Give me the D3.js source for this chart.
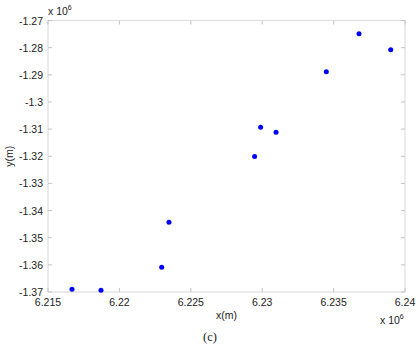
<!DOCTYPE html>
<html>
<head>
<meta charset="utf-8">
<script src="https://cdn.jsdelivr.net/npm/d3@7"></script>
<style>
  body { margin: 0; background: #fff; }
  svg { display: block; }
  text { font-family: "Liberation Sans", Arial, sans-serif; fill: #222; }
</style>
</head>
<body>
<div id="chart"></div>
<script>
// data in units of 10^6 m
const xVals = [6.21668, 6.21871, 6.22296, 6.22347, 6.22947, 6.22989, 6.23097, 6.23449, 6.23678, 6.23900];
const yVals = [-1.36900, -1.36937, -1.36090, -1.34431, -1.32013, -1.30929, -1.31113, -1.28891, -1.27490, -1.28080];
const xTicks = [6.215, 6.22, 6.225, 6.23, 6.235, 6.24];
const xTickLabels = ["6.215", "6.22", "6.225", "6.23", "6.235", "6.24"];
const yTicks = [-1.27, -1.28, -1.29, -1.3, -1.31, -1.32, -1.33, -1.34, -1.35, -1.36, -1.37];
const yTickLabels = ["-1.27", "-1.28", "-1.29", "-1.3", "-1.31", "-1.32", "-1.33", "-1.34", "-1.35", "-1.36", "-1.37"];

const W = 418, H = 344;
const margin = {top: 20.5, right: 13, bottom: 52, left: 48};
const width = W - margin.left - margin.right,
      height = H - margin.top - margin.bottom;

const svg = d3.select("#chart").append("svg")
    .attr("width", W).attr("height", H);
const g = svg.append("g")
    .attr("transform", `translate(${margin.left},${margin.top})`);

const x = d3.scaleLinear().domain([6.215, 6.24]).range([0, width]);
const y = d3.scaleLinear().domain([-1.37, -1.27]).range([height, 0]);

// box
g.append("rect")
    .attr("x", 0).attr("y", 0)
    .attr("width", width).attr("height", height)
    .attr("fill", "none").attr("stroke", "#dedede").attr("stroke-width", 1.2);

// ticks (inward, all four sides)
const tk = 4, tickColor = "#c4c4c4";
xTicks.forEach(function(t) {
    g.append("line").attr("x1", x(t)).attr("x2", x(t)).attr("y1", height).attr("y2", height - tk).attr("stroke", tickColor);
    g.append("line").attr("x1", x(t)).attr("x2", x(t)).attr("y1", 0).attr("y2", tk).attr("stroke", tickColor);
});
yTicks.forEach(function(t) {
    g.append("line").attr("y1", y(t)).attr("y2", y(t)).attr("x1", 0).attr("x2", tk).attr("stroke", tickColor);
    g.append("line").attr("y1", y(t)).attr("y2", y(t)).attr("x1", width).attr("x2", width - tk).attr("stroke", tickColor);
});

// tick labels
g.selectAll(".xl").data(xTicks).enter().append("text")
    .attr("x", d => x(d)).attr("y", height + 14)
    .attr("text-anchor", "middle").style("font-size", "10.5px")
    .text((d, i) => xTickLabels[i]);

g.selectAll(".yl").data(yTicks).enter().append("text")
    .attr("x", -5).attr("y", d => y(d) + 4)
    .attr("text-anchor", "end").style("font-size", "10.5px")
    .text((d, i) => yTickLabels[i]);

// exponent labels
const e1 = svg.append("text").attr("x", 48).attr("y", 15).style("font-size", "10.5px");
e1.append("tspan").text("x 10");
e1.append("tspan").attr("dy", -5).style("font-size", "7px").text("6");

const e2 = svg.append("text").attr("x", 380).attr("y", 324).style("font-size", "10.5px");
e2.append("tspan").text("x 10");
e2.append("tspan").attr("dy", -5).style("font-size", "7px").text("6");

// axis titles
svg.append("text").attr("x", margin.left + width / 2).attr("y", 319)
    .attr("text-anchor", "middle").style("font-size", "10.5px").text("x(m)");
svg.append("text")
    .attr("transform", `translate(13,${margin.top + height / 2}) rotate(-90)`)
    .attr("text-anchor", "middle").style("font-size", "10.5px").text("y(m)");

svg.append("text").attr("x", 210).attr("y", 341)
    .attr("text-anchor", "middle")
    .style("font-family", "'Liberation Serif', 'Times New Roman', serif")
    .style("font-size", "12.5px").text("(c)");

// points
g.selectAll(".pt").data(xVals).enter().append("circle")
    .attr("cx", d => x(d)).attr("cy", (d, i) => y(yVals[i]))
    .attr("r", 2.5).attr("fill", "#0000ff");
</script>
</body>
</html>
